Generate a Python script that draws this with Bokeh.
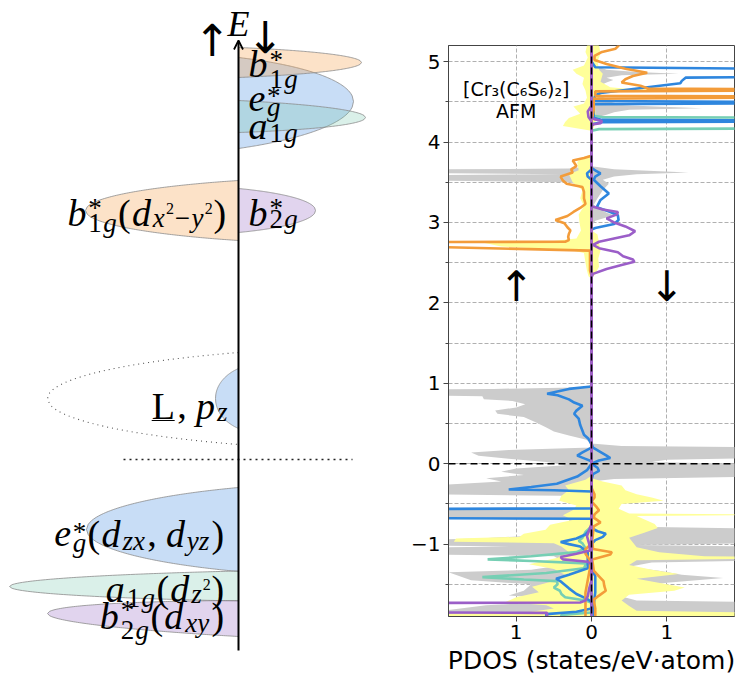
import numpy as np
from bokeh.plotting import figure
from bokeh.layouts import row
from bokeh.models import (Range1d, FixedTicker, CustomJSTickFormatter, Span,
                          Arrow, OpenHead, ColumnDataSource)
from bokeh.core.properties import value, field
from bokeh.embed import file_html
from bokeh.resources import INLINE

# ---------------------------------------------------------------------------
# Projected DOS of [Cr3(C6S6)2], AFM.  (energy [eV], DOS [states/eV.atom])
# Spin-up is drawn to the left of zero, spin-down to the right.
# ---------------------------------------------------------------------------
gray_up = [(5.25, 0), (3.70, 0), (3.67, 0.3), (3.655, 3.0), (3.62, 3.0), (3.60, 0.4),
           (3.585, 3.0), (3.53, 3.0), (3.50, 0.3), (3.45, 0.1), (3.30, 0.0), (1.00, 0.0),
           (0.95, 0.05), (0.93, 1.3), (0.915, 3.0), (0.86, 3.0), (0.84, 1.45), (0.80, 1.43),
           (0.78, 1.05), (0.74, 0.88), (0.70, 1.0), (0.66, 1.28), (0.62, 1.25), (0.58, 0.9),
           (0.52, 0.75), (0.45, 0.6), (0.40, 0.5), (0.35, 0.3), (0.30, 0.08), (0.26, 0.0),
           (0.20, 0.0), (0.17, 1.1), (0.14, 1.6), (0.10, 1.5), (0.06, 1.1), (0.02, 0.6),
           (-0.02, 0.35), (-0.06, 1.0), (-0.10, 1.2), (-0.14, 0.9), (-0.18, 1.4), (-0.22, 1.2),
           (-0.26, 1.9), (-0.29, 3.0), (-0.37, 3.0), (-0.40, 0.4), (-0.48, 0.15), (-0.55, 0.2),
           (-0.58, 3.0), (-0.67, 3.0), (-0.70, 0.3), (-0.80, 0.25), (-0.88, 0.5), (-0.93, 1.5),
           (-0.96, 3.0), (-1.01, 3.0), (-1.03, 1.0), (-1.05, 3.0), (-1.12, 3.0), (-1.15, 0.5),
           (-1.25, 0.3), (-1.32, 0.8), (-1.35, 1.9), (-1.45, 1.6), (-1.50, 0.8), (-1.58, 0.9),
           (-1.64, 1.1), (-1.68, 0.5), (-1.72, 0.6), (-1.76, 1.4), (-1.82, 1.9), (-1.95, 1.9)]

gray_dn = [(5.25, 0), (4.95, 0.05), (4.90, 0.2), (4.87, 0.6), (4.85, 1.16), (4.83, 0.4),
           (4.80, 0.2), (4.77, 0.29), (4.74, 0.2), (4.70, 0.1), (4.60, 0.05), (4.54, 0.2),
           (4.50, 0.33), (4.47, 0.2), (4.45, 0.6), (4.42, 1.47), (4.40, 0.5), (4.37, 0.3),
           (4.34, 0.2), (4.30, 0.05), (4.20, 0.0), (3.70, 0.0), (3.66, 0.3), (3.62, 1.29),
           (3.60, 0.6), (3.57, 0.3), (3.53, 0.15), (3.48, 0.23), (3.40, 0.15), (3.30, 0.08),
           (3.22, 0.03), (3.18, 0.1), (3.12, 0.2), (3.09, 0.3), (3.05, 0.15), (3.02, 0.05),
           (2.98, 0.02), (2.90, 0.0), (0.25, 0.0), (0.22, 0.4), (0.20, 3.0), (0.08, 3.0),
           (0.05, 1.0), (0.02, 0.8), (-0.02, 3.0), (-0.15, 3.0), (-0.19, 0.3), (-0.22, 0.0),
           (-0.70, 0.0), (-0.78, 0.4), (-0.82, 3.0), (-0.98, 3.0), (-1.01, 0.6), (-1.04, 3.0),
           (-1.19, 3.0), (-1.23, 0.8), (-1.28, 0.5), (-1.33, 0.9), (-1.38, 1.2), (-1.42, 1.75),
           (-1.48, 1.0), (-1.55, 0.5), (-1.65, 0.4), (-1.70, 0.6), (-1.73, 3.0), (-1.84, 3.0),
           (-1.88, 0.6), (-1.95, 0.6)]

yellow_up = [(5.25, 0), (5.20, 0.06), (5.12, 0.08), (5.05, 0.05), (4.95, 0.1), (4.90, 0.25),
             (4.85, 0.2), (4.80, 0.1), (4.72, 0.12), (4.64, 0.08), (4.55, 0.06), (4.48, 0.1),
             (4.44, 0.24), (4.40, 0.2), (4.35, 0.15), (4.30, 0.3), (4.25, 0.35), (4.20, 0.38),
             (4.17, 0.2), (4.14, 0.0), (3.85, 0.0), (3.80, 0.12), (3.75, 0.19), (3.65, 0.17),
             (3.60, 0.3), (3.50, 0.25), (3.40, 0.12), (3.30, 0.15), (3.20, 0.1), (3.10, 0.17),
             (3.00, 0.16), (2.90, 0.14), (2.80, 0.2), (2.77, 0.5), (2.75, 1.45), (2.70, 1.2),
             (2.66, 0.3), (2.62, 0.1), (2.50, 0.08), (2.40, 0.06), (2.33, 0.04), (2.30, 0.0),
             (-0.15, 0.0), (-0.20, 0.08), (-0.27, 0.35), (-0.33, 0.3), (-0.40, 0.4),
             (-0.46, 0.43), (-0.52, 0.2), (-0.58, 0.25), (-0.64, 0.38), (-0.70, 0.25),
             (-0.76, 0.55), (-0.82, 0.61), (-0.87, 0.9), (-0.91, 0.96), (-0.93, 1.8),
             (-0.97, 1.83), (-0.99, 0.5), (-1.03, 0.4), (-1.10, 0.3), (-1.17, 0.45),
             (-1.25, 0.83), (-1.31, 0.5), (-1.38, 0.35), (-1.46, 0.5), (-1.53, 0.79),
             (-1.60, 0.7), (-1.66, 1.0), (-1.72, 1.14), (-1.76, 0.6), (-1.80, 0.5),
             (-1.84, 0.8), (-1.87, 1.9), (-1.95, 1.9)]

yellow_dn = [(5.25, 0), (5.20, 0.1), (5.10, 0.12), (5.00, 0.08), (4.90, 0.1), (4.85, 0.15),
             (4.75, 0.12), (4.68, 0.25), (4.66, 0.5), (4.645, 1.14), (4.62, 0.2), (4.58, 0.1),
             (4.50, 0.05), (4.40, 0.05), (4.30, 0.06), (4.22, 0.05), (4.18, 0.03), (4.10, 0.0),
             (2.90, 0.0), (2.85, 0.08), (2.75, 0.1), (2.65, 0.12), (2.55, 0.09), (2.45, 0.1),
             (2.36, 0.05), (2.30, 0.0), (-0.18, 0.0), (-0.22, 0.15), (-0.27, 0.4), (-0.33, 0.45),
             (-0.38, 0.6), (-0.42, 0.8), (-0.46, 0.96), (-0.50, 0.4), (-0.56, 0.36),
             (-0.62, 0.5), (-0.635, 3.0), (-0.65, 0.6), (-0.70, 0.72), (-0.75, 0.84),
             (-0.80, 0.88), (-0.86, 0.7), (-0.92, 0.5), (-0.98, 0.55), (-1.04, 0.6),
             (-1.10, 0.9), (-1.15, 1.5), (-1.17, 3.0), (-1.20, 0.6), (-1.26, 0.5),
             (-1.32, 0.8), (-1.37, 1.16), (-1.43, 0.6), (-1.50, 1.0), (-1.54, 1.24),
             (-1.58, 1.1), (-1.63, 0.5), (-1.70, 0.4), (-1.77, 0.5), (-1.83, 0.6),
             (-1.86, 3.0), (-1.95, 3.0)]

blue_up = [(5.25, 0), (3.66, 0), (3.61, 0.06), (3.57, 0.05), (3.53, 0.0), (0.96, 0.0),
           (0.93, 0.3), (0.87, 0.59), (0.85, 0.45), (0.80, 0.3), (0.76, 0.23), (0.72, 0.12),
           (0.66, 0.2), (0.62, 0.23), (0.56, 0.17), (0.48, 0.15), (0.41, 0.12), (0.36, 0.1),
           (0.31, 0.04), (0.24, 0.0), (0.20, 0.0), (0.14, 0.12), (0.10, 0.19), (0.06, 0.08),
           (0.03, 0.0), (0.0, 0.0), (-0.08, 0.06), (-0.16, 0.19), (-0.25, 0.46), (-0.29, 0.8),
           (-0.32, 1.1), (-0.33, 0.5), (-0.345, 0.0), (-0.555, 0.0), (-0.565, 3.0),
           (-0.675, 3.0), (-0.685, 0.0), (-0.80, 0.0), (-0.88, 0.08), (-0.93, 0.2),
           (-0.975, 0.41), (-1.00, 0.3), (-1.03, 0.15), (-1.10, 0.05), (-1.30, 0.05),
           (-1.38, 0.3), (-1.43, 0.47), (-1.47, 0.4), (-1.55, 0.3), (-1.62, 0.2),
           (-1.68, 0.06), (-1.72, 0.0), (-1.80, 0.0), (-1.84, 0.2), (-1.87, 0.6), (-1.95, 0.6)]

blue_dn = [(5.25, 0), (5.00, 0.0), (4.93, 0.05), (4.905, 3.0), (4.815, 3.0), (4.80, 1.25),
           (4.76, 1.2), (4.73, 1.18), (4.61, 0.12), (4.58, 0.05), (4.51, 0.03), (4.495, 3.0),
           (4.485, 3.0), (4.47, 0.03), (4.30, 0.03), (4.275, 0.14), (4.265, 3.0), (4.255, 3.0),
           (4.245, 0.14), (4.22, 0.0), (3.68, 0.0), (3.64, 0.06), (3.61, 0.12), (3.57, 0.05),
           (3.53, 0.03), (3.45, 0.12), (3.36, 0.23), (3.28, 0.12), (3.19, 0.07), (3.13, 0.25),
           (3.09, 0.35), (3.03, 0.36), (2.98, 0.3), (2.93, 0.05), (2.91, 0.0), (0.25, 0.0),
           (0.20, 0.02), (0.10, 0.2), (0.07, 0.25), (0.04, 0.1), (0.0, 0.0), (-0.05, 0.08),
           (-0.09, 0.1), (-0.13, 0.02), (-0.20, 0.0), (-0.80, 0.0), (-0.84, 0.08),
           (-0.87, 0.19), (-0.91, 0.15), (-0.95, 0.05), (-1.00, 0.0), (-1.30, 0.0),
           (-1.40, 0.05), (-1.60, 0.05), (-1.75, 0.03), (-1.95, 0.03)]

teal_up = [(5.25, 0), (-0.78, 0.0), (-0.85, 0.08), (-0.92, 0.12), (-0.96, 0.17), (-0.99, 0.12),
           (-1.05, 0.08), (-1.10, 0.2), (-1.15, 0.8), (-1.19, 1.38), (-1.21, 0.8), (-1.24, 0.07),
           (-1.30, 0.1), (-1.36, 0.6), (-1.41, 1.45), (-1.44, 0.9), (-1.46, 0.46), (-1.50, 0.45),
           (-1.54, 0.5), (-1.58, 0.42), (-1.62, 0.4), (-1.66, 0.35), (-1.70, 0.08), (-1.73, 0.0),
           (-1.85, 0.0), (-1.88, 0.4), (-1.95, 0.4)]

teal_dn = [(5.25, 0), (4.33, 0.0), (4.31, 0.14), (4.30, 3.0), (4.17, 3.0), (4.16, 0.1),
           (4.14, 0.0), (-1.95, 0.0)]

orange_up = [(5.25, 0), (3.83, 0.0), (3.80, 0.1), (3.77, 0.25), (3.73, 0.22), (3.70, 0.2),
             (3.66, 0.27), (3.62, 0.25), (3.57, 0.41), (3.52, 0.38), (3.48, 0.33), (3.44, 0.12),
             (3.38, 0.1), (3.30, 0.1), (3.23, 0.08), (3.18, 0.15), (3.13, 0.24), (3.08, 0.32),
             (3.03, 0.48), (2.99, 0.36), (2.94, 0.32), (2.90, 0.28), (2.86, 0.3), (2.82, 0.31),
             (2.78, 0.3), (2.76, 0.35), (2.755, 3.0), (2.715, 3.0), (2.65, 0.02), (2.40, 0.02),
             (2.34, 0.0), (-1.00, 0.0), (-1.06, 0.08), (-1.12, 0.08), (-1.20, 0.02),
             (-1.30, 0.02), (-1.45, 0.05), (-1.60, 0.08), (-1.80, 0.08), (-1.95, 0.08)]

orange_dn = [(5.25, 0.4), (5.20, 0.36), (5.16, 0.32), (5.12, 0.14), (5.07, 0.04), (5.02, 0.04),
             (4.97, 0.2), (4.91, 0.45), (4.86, 0.74), (4.82, 0.55), (4.78, 0.45), (4.74, 0.4),
             (4.70, 0.65), (4.665, 0.75), (4.655, 3.0), (4.645, 3.0), (4.63, 0.05),
             (4.575, 0.05), (4.565, 3.0), (4.555, 3.0), (4.54, 0.03), (4.40, 0.03), (4.25, 0.0),
             (-0.30, 0.0), (-0.38, 0.04), (-0.42, 0.04), (-0.47, 0.0), (-0.53, 0.06),
             (-0.58, 0.1), (-0.63, 0.04), (-0.67, 0.03), (-0.73, 0.12), (-0.78, 0.03),
             (-0.95, 0.01), (-1.06, 0.02), (-1.10, 0.27), (-1.13, 0.25), (-1.19, 0.01),
             (-1.33, 0.03), (-1.40, 0.1), (-1.46, 0.16), (-1.52, 0.17), (-1.58, 0.19),
             (-1.64, 0.1), (-1.69, 0.03), (-1.80, 0.05), (-1.95, 0.05)]

purple_up = [(5.25, 0), (4.45, 0.0), (4.38, 0.05), (4.31, 0.04), (4.26, 0.0), (-0.75, 0.0),
             (-0.80, 0.02), (-0.90, 0.06), (-1.00, 0.03), (-1.08, 0.02), (-1.12, 0.2),
             (-1.16, 0.41), (-1.19, 0.38), (-1.22, 0.05), (-1.25, 0.0), (-1.45, 0.0),
             (-1.55, 0.03), (-1.65, 0.05), (-1.70, 0.08), (-1.725, 0.15), (-1.735, 3.0),
             (-1.845, 3.0), (-1.855, 0.59), (-1.95, 0.59)]

purple_dn = [(5.25, 0), (4.30, 0.0), (4.28, 0.05), (4.26, 0.14), (4.235, 0.12), (4.22, 0.03),
             (4.20, 0.0), (3.20, 0.0), (3.16, 0.15), (3.13, 0.35), (3.10, 0.34), (3.05, 0.2),
             (3.00, 0.3), (2.95, 0.45), (2.89, 0.58), (2.84, 0.5), (2.80, 0.3), (2.76, 0.1),
             (2.72, 0.02), (2.68, 0.1), (2.63, 0.35), (2.58, 0.42), (2.54, 0.55), (2.51, 0.57),
             (2.47, 0.4), (2.42, 0.2), (2.36, 0.02), (2.32, 0.0), (-1.95, 0.0)]

e_ticks = [-1, 0, 1, 2, 3, 4, 5]
e_minor = [-1.5, -0.5, 0.5, 1.5, 2.5, 3.5, 4.5]
dos_ticks = [-1, 0, 1]

# ---------------------------------------------------------------------------
# Schematic level diagram (arbitrary energy units, Fermi level at 0)
# ---------------------------------------------------------------------------
ORANGE, BLUE, TEAL, PURPLE = "#f5a04a", "#4a90e2", "#6cc4a6", "#9b6fc6"
level_side = [1, 1, 1, -1, 1, -1, -1, -1, -1]          # +1: spin-down side, -1: spin-up side
level_center = [3.97, 3.565, 3.43, 2.49, 2.49, 0.61, -0.70, -1.265, -1.59]
level_half = [0.15, 0.455, 0.16, 0.30, 0.22, 0.30, 0.42, 0.15, 0.18]
level_reach = [1.23, 1.15, 1.27, 1.53, 0.77, 0.23, 1.52, 2.29, 1.91]
level_tip = [3.97, 3.58, 3.42, 2.49, 2.49, 0.61, -0.70, -1.27, -1.54]
level_color = [ORANGE, BLUE, TEAL, ORANGE, PURPLE, BLUE, BLUE, TEAL, PURPLE]
level_alpha = [0.3, 0.3, 0.25, 0.3, 0.3, 0.3, 0.3, 0.25, 0.3]
level_order = [1, 0, 2, 3, 4, 5, 6, 7, 8]                # drawing order (back to front)
band_center, band_half, band_reach = 0.61, 0.46, 1.91    # ligand band envelope
fermi_extent = (-1.15, 1.14)
axis_span = (-1.91, 4.19)


def unzip(pairs):
    e, v = zip(*pairs)
    return np.asarray(e, float), np.asarray(v, float)


def lobe(side, yc, h, reach, tip, k=0.5, n=90):
    """Part of an ellipse cut by the energy axis: width `reach`, opening 2h at the axis."""
    a = reach / (1 - k)
    d = k * a
    b = h / np.sqrt(1 - k ** 2)
    s = np.linspace(0, reach, n)
    hh = b * np.sqrt(np.clip(1 - ((s + d) / a) ** 2, 0, None))
    mid = yc + (tip - yc) * s / reach
    xs = side * np.concatenate([s, s[::-1]])
    ys = np.concatenate([mid + hh, (mid - hh)[::-1]])
    return xs, ys


# --- simple math-label typesetting with Liberation Serif -------------------
W_ROM = {"(": .333, ")": .333, ",": .25, " ": .2, "1": .5, "2": .5, "*": .5, "L": .611,
         "\u2212": .564, "E": .611}
W_ITA = {"a": .5, "b": .5, "d": .5, "e": .444, "g": .5, "p": .5, "x": .444, "y": .444,
         "z": .389, "E": .611}
SIZE = {"base": 38, "sub": 27, "sup": 27, "ssup": 16}
TRACK = 1.1
PX = 100.0          # screen pixels per unit in the schematic panel
RAISE = 0.26        # baseline correction, in em
I, R = True, False


def typeset(tokens):
    out, x, sup_x, sup_w = [], 0.0, None, 0.0
    for tok in tokens:
        text, role, ital, dy = tok[:4]
        size = SIZE[role]
        w = sum((W_ITA if ital else W_ROM).get(c, .5) for c in text) * size * TRACK
        if role == "base" and sup_x is not None:
            x = max(x, sup_x + sup_w)
            sup_x = None
        if role == "sup":
            sup_x, sup_w = x, w
            out.append((text, x, dy, size, ital, 0.0))
            continue
        out.append((text, x, dy, size, ital, w if len(tok) > 4 else 0.0))
        x += w
    if sup_x is not None:
        x = max(x, sup_x + sup_w)
    return out, x


labels = [
    (0.10, 3.86, "left", [("b", "base", I, 0), ("*", "sup", R, -6), ("1", "sub", R, 13), ("g", "sub", I, 13)]),
    (0.10, 3.51, "left", [("e", "base", I, 0), ("*", "sup", R, -5), ("g", "sub", I, 6)]),
    (0.10, 3.24, "left", [("a", "base", I, 0), ("1", "sub", R, 5), ("g", "sub", I, 5)]),
    (-0.11, 2.37, "right", [("b", "base", I, 0), ("*", "sup", R, -7), ("1", "sub", R, 8), ("g", "sub", I, 8),
                            ("(", "base", R, 0), ("d", "base", I, 0), ("x", "sub", I, 3), ("2", "ssup", R, -10),
                            ("\u2212", "sub", R, 3), ("y", "sub", I, 3), ("2", "ssup", R, -10), (")", "base", R, 0)]),
    (0.10, 2.37, "left", [("b", "base", I, 0), ("*", "sup", R, -7), ("2", "sub", R, 4), ("g", "sub", I, 4)]),
    (-0.10, 0.44, "right", [("L", "base", R, 0, "u"), (",", "base", R, 0), (" ", "base", R, 0),
                            ("p", "base", I, 0), ("z", "sub", I, 4)]),
    (-0.13, -0.84, "right", [("e", "base", I, 0), ("*", "sup", R, -4), ("g", "sub", I, 7), ("(", "base", R, 0),
                             ("d", "base", I, 0), ("zx", "sub", I, 5), (",", "base", R, 0), (" ", "base", R, 0),
                             ("d", "base", I, 0), ("yz", "sub", I, 5), (")", "base", R, 0)]),
    (-0.13, -1.39, "right", [("a", "base", I, 0), ("1", "sub", R, 7), ("g", "sub", I, 7), ("(", "base", R, 0),
                             ("d", "base", I, 0), ("z", "sub", I, 3), ("2", "ssup", R, -10), (")", "base", R, 0)]),
    (-0.13, -1.66, "right", [("b", "base", I, 0), ("*", "sup", R, -8), ("2", "sub", R, 12), ("g", "sub", I, 12),
                             ("(", "base", R, 0), ("d", "base", I, 0), ("xy", "sub", I, 5), (")", "base", R, 0)]),
]

# ---------------------------------------------------------------------------
left = figure(width=400, height=682, x_range=Range1d(-2.38, 1.62), y_range=Range1d(-2.23, 4.59),
              output_backend="svg", toolbar_location=None, x_axis_location=None,
              y_axis_location=None, min_border=0)
left.frame_align = False
left.grid.visible = False
left.outline_line_color = None
left.background_fill_color = "white"
left.border_fill_color = "white"

xs_all, ys_all = [], []
for i in level_order:
    xs, ys = lobe(level_side[i], level_center[i], level_half[i], level_reach[i], level_tip[i])
    xs_all.append(xs)
    ys_all.append(ys)
left.patches(xs=xs_all, ys=ys_all, fill_color=[level_color[i] for i in level_order],
             fill_alpha=[level_alpha[i] for i in level_order],
             line_color="#8c8c8c", line_width=0.8)

bx, by = lobe(-1, band_center, band_half, band_reach, band_center)
left.line(bx, by, line_color="#555555", line_width=1.1, line_dash="1 4")
left.line(list(fermi_extent), [0, 0], line_color="#222222", line_width=1.6, line_dash="2 4")
left.add_layout(Arrow(end=OpenHead(size=9, line_width=1.8, line_color="black"),
                      x_start=0, y_start=axis_span[0], x_end=0, y_end=axis_span[1],
                      line_width=2, line_color="black"))

cols = dict(x=[], y=[], text=[], size=[], style=[])
ul = dict(x0=[], x1=[], y=[])
for ax, ay, align, toks in labels:
    pieces, total = typeset(toks)
    shift = -total if align == "right" else 0.0
    for text, px, dy, size, ital, uw in pieces:
        cols["x"].append(ax + (px + shift) / PX)
        cols["y"].append(ay - dy / PX + RAISE * size / PX)
        cols["text"].append(text)
        cols["size"].append(f"{size}px")
        cols["style"].append("italic" if ital else "normal")
        if uw:
            ul["x0"].append(ax + (px + shift) / PX)
            ul["x1"].append(ax + (px + shift + uw * 0.9) / PX)
            ul["y"].append(ay - 5 / PX)
left.text(x="x", y="y", text="text", source=ColumnDataSource(cols),
          text_font=value("Liberation Serif"), text_font_size=field("size"),
          text_font_style=field("style"), text_baseline="alphabetic", text_align="left",
          text_color="black")
left.segment(x0="x0", x1="x1", y0="y", y1="y", source=ColumnDataSource(ul),
             line_color="black", line_width=1.2)

# energy axis caption with the two spin channels
left.text(x=[0.0], y=[4.26 + RAISE * 36 / PX], text=["E"], text_font=value("Liberation Serif"),
          text_font_size="36px", text_font_style="italic", text_align="center",
          text_baseline="alphabetic", text_color="black")
left.text(x=[-0.26, 0.27], y=[4.19, 4.22], text=["\u2191", "\u2193"],
          text_font=value("DejaVu Sans"), text_font_size="44px", text_align="center",
          text_baseline="middle", text_color="black")

# ---------------------------------------------------------------------------
right = figure(width=341, height=682, x_range=Range1d(-1.9, 1.9), y_range=Range1d(-1.9, 5.2),
               output_backend="svg", toolbar_location=None,
               min_border_left=48, min_border_right=7, min_border_top=45, min_border_bottom=66)
right.frame_align = False
right.background_fill_color = "white"
right.border_fill_color = "white"
right.outline_line_color = "#444444"

for pairs, sgn, color in [(gray_up, -1, "#cccccc"), (gray_dn, 1, "#cccccc"),
                          (yellow_up, -1, "#ffff99"), (yellow_dn, 1, "#ffff99")]:
    e, v = unzip(pairs)
    right.harea(x1=0, x2=sgn * v, y=e, fill_color=color, fill_alpha=1.0)

for pairs_up, pairs_dn, color in [(teal_up, teal_dn, "#76cfb4"), (blue_up, blue_dn, "#2e86de"),
                                  (orange_up, orange_dn, "#f39c3a"), (purple_up, purple_dn, "#9b5ec8")]:
    e, v = unzip(pairs_up)
    right.line(-v, e, line_color=color, line_width=2.6)
    e, v = unzip(pairs_dn)
    right.line(v, e, line_color=color, line_width=2.6)

right.add_layout(Span(location=0, dimension="height", line_color="black", line_width=1.5,
                      line_dash="7 4"))
right.add_layout(Span(location=0, dimension="width", line_color="black", line_width=1.5,
                      line_dash="7 4"))

note_raise = RAISE * 19 / 80.4
right.text(x=[-1.0, -1.0], y=[4.60 + note_raise, 4.32 + note_raise],
           text=["[Cr\u2083(C\u2086S\u2086)\u2082]", "AFM"],
           text_font=value("DejaVu Sans"), text_font_size="19px", text_align="center",
           text_baseline="alphabetic", text_color="black")
right.text(x=[-1.0, 1.0], y=[2.2, 2.2], text=["\u2191", "\u2193"],
           text_font=value("DejaVu Sans"), text_font_size="42px", text_align="center",
           text_baseline="middle", text_color="black")

right.xaxis.ticker = FixedTicker(ticks=dos_ticks)
right.xaxis.formatter = CustomJSTickFormatter(code="return Math.abs(tick).toString();")
right.yaxis.ticker = FixedTicker(ticks=e_ticks, minor_ticks=e_minor)
right.yaxis.formatter = CustomJSTickFormatter(
    code="return tick < 0 ? '\\u2212' + Math.abs(tick) : tick.toString();")
right.xaxis.axis_label = "PDOS (states/eV\u00b7atom)"
for ax in (right.xaxis, right.yaxis):
    ax.major_label_text_font = "DejaVu Sans"
    ax.major_label_text_font_size = "20px"
    ax.major_label_text_color = "black"
    ax.axis_line_color = "#444444"
    ax.major_tick_line_color = "#444444"
    ax.major_tick_out = 5
    ax.major_tick_in = 0
    ax.major_label_standoff = 3
right.xaxis.minor_tick_line_color = None
right.yaxis.minor_tick_line_color = "#444444"
right.yaxis.minor_tick_out = 3
right.yaxis.minor_tick_in = 0
right.xaxis.axis_label_text_font = "DejaVu Sans"
right.xaxis.axis_label_text_font_size = "25px"
right.xaxis.axis_label_text_font_style = "normal"
right.xaxis.axis_label_text_color = "black"
right.xaxis.axis_label_standoff = 4
right.xgrid.grid_line_color = "#b0b0b0"
right.xgrid.grid_line_dash = "4 2"
right.ygrid.grid_line_color = "#b0b0b0"
right.ygrid.grid_line_dash = "4 2"
right.ygrid.minor_grid_line_color = "#b0b0b0"
right.ygrid.minor_grid_line_dash = "4 2"

layout = row(left, right, spacing=0)
open("out.html", "w").write(file_html(layout, INLINE))
